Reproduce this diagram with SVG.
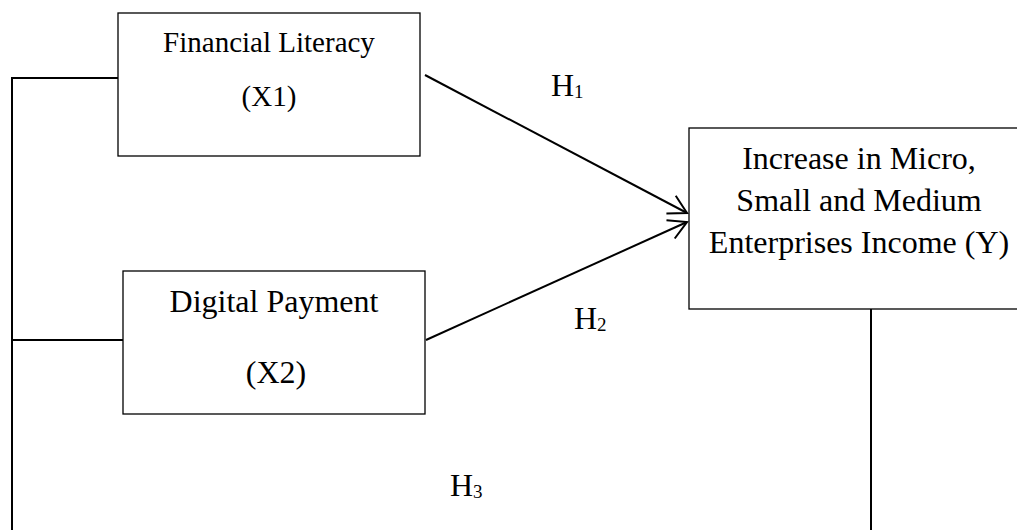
<svg xmlns="http://www.w3.org/2000/svg" width="1017" height="530" viewBox="0 0 1017 530">
<style>
.box{fill:#fff;stroke:#000;stroke-width:1.3}
.ln{fill:none;stroke:#000;stroke-width:2}
.t{font-family:"Liberation Serif","Times New Roman",serif;fill:#000;text-anchor:middle}
.h{font-family:"Liberation Serif","Times New Roman",serif;fill:#000;font-size:32px}
</style>
<defs>
<marker id="arr" markerUnits="userSpaceOnUse" markerWidth="30" markerHeight="30" refX="0" refY="0" viewBox="-20 -15 25 30" orient="auto" overflow="visible">
<path d="M-18,-10 L0,0 L-18,10" fill="none" stroke="#000" stroke-width="2"/>
</marker>
</defs>
<rect width="1017" height="530" fill="#fff"/>
<g id="connectors">
<polyline class="ln" points="118,78 12,78 12,530"/>
<line class="ln" x1="12" y1="340" x2="127" y2="340"/>
<line class="ln" x1="871" y1="309" x2="871" y2="530"/>
<line class="ln" x1="425" y1="75" x2="687" y2="213" marker-end="url(#arr)"/>
<line class="ln" x1="426" y1="340" x2="687" y2="222" marker-end="url(#arr)"/>
</g>
<g id="node-x1">
<rect class="box" x="118" y="13" width="302" height="143"/>
<text class="t" x="269" y="52" font-size="29">Financial Literacy</text>
<text class="t" x="269" y="106" font-size="29">(X1)</text>
</g>
<g id="node-x2">
<rect class="box" x="123" y="271" width="302" height="143"/>
<text class="t" x="274" y="312" font-size="32">Digital Payment</text>
<text class="t" x="276" y="383" font-size="32">(X2)</text>
</g>
<g id="node-y">
<rect class="box" x="689" y="128" width="341" height="181"/>
<text class="t" x="859" y="169" font-size="32">Increase in Micro,</text>
<text class="t" x="859" y="211" font-size="32">Small and Medium</text>
<text class="t" x="859" y="253" font-size="32">Enterprises Income (Y)</text>
</g>
<g id="labels">
<text class="h" x="551" y="96">H<tspan font-size="19" dy="2">1</tspan></text>
<text class="h" x="574" y="329">H<tspan font-size="19" dy="2">2</tspan></text>
<text class="h" x="450" y="496">H<tspan font-size="19" dy="2">3</tspan></text>
</g>
</svg>
